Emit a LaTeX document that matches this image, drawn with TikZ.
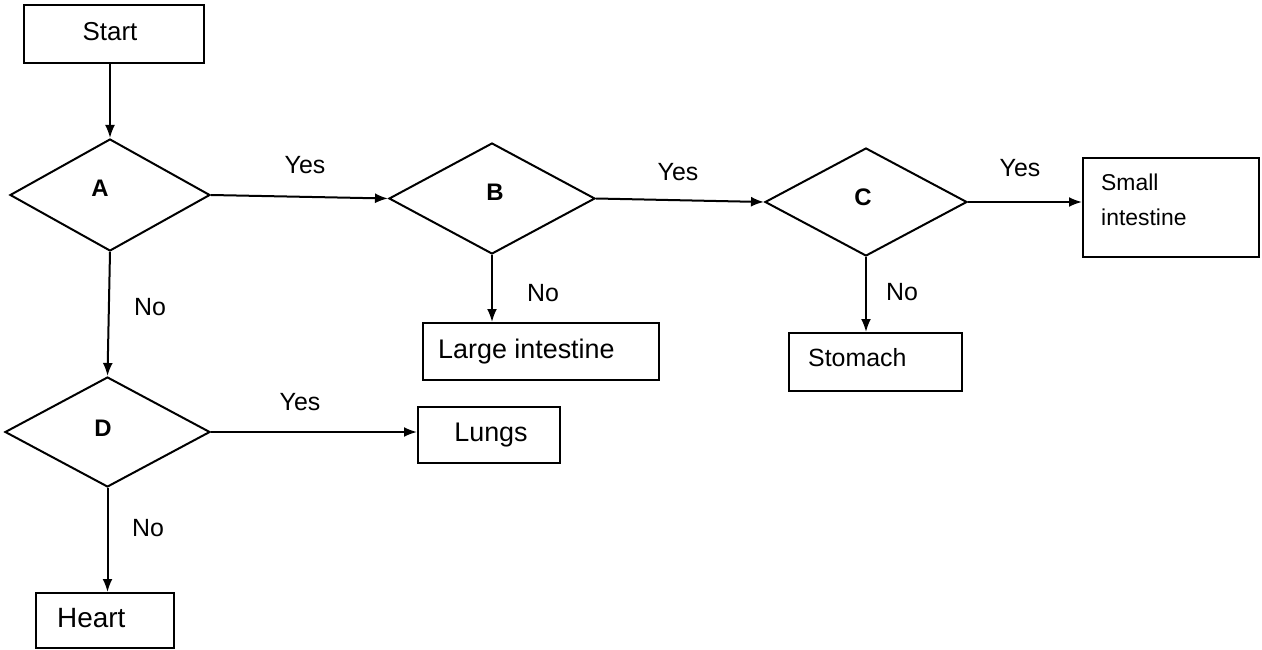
\documentclass[tikz,border=0pt]{standalone}
\usepackage{fontspec}
\setmainfont{Liberation Sans}
\usetikzlibrary{shapes.geometric,arrows.meta}
\begin{document}
\begin{tikzpicture}[x=1bp,y=-1bp,
  every node/.style={font=\fontsize{26}{30}\selectfont},
  boxnode/.style={draw, line width=2bp, rectangle, inner sep=0pt},
  decnode/.style={draw, line width=2bp, diamond, inner sep=0pt},
  lbl/.style={font=\fontsize{25}{30}\selectfont, inner sep=0pt},
  letter/.style={font=\fontsize{24}{28}\selectfont\bfseries, inner sep=0pt},
  conn/.style={line width=2bp, -{Latex[length=13bp,width=10bp]}}]
\useasboundingbox (0,0) rectangle (1262,650);
\fill[white] (0,0) rectangle (1262,650);

% boxes
\node[boxnode, minimum width=180bp, minimum height=58bp] (start) at (114,34) {};
\node[lbl, font=\fontsize{26}{30}\selectfont] (starttxt) at (110,32) {Start};
\node[boxnode, minimum width=176bp, minimum height=99bp] (si) at (1171,207.5) {};
\node[lbl, anchor=north west, align=left, font=\fontsize{23}{35}\selectfont] (sitxt) at (1101,174) {Small\\intestine};
\node[boxnode, minimum width=236bp, minimum height=57bp] (li) at (541,351.5) {};
\node[lbl, anchor=west, font=\fontsize{27}{30}\selectfont] (litxt) at (438,352) {Large intestine};
\node[boxnode, minimum width=173bp, minimum height=58bp] (st) at (875.5,362) {};
\node[lbl, anchor=west, font=\fontsize{25}{30}\selectfont] (sttxt) at (808,358) {Stomach};
\node[boxnode, minimum width=142bp, minimum height=56bp] (lungs) at (489,435) {};
\node[lbl, font=\fontsize{27}{30}\selectfont] (lungstxt) at (491,435) {Lungs};
\node[boxnode, minimum width=138bp, minimum height=55bp] (heart) at (105,620.5) {};
\node[lbl, anchor=west, font=\fontsize{28}{30}\selectfont] (hearttxt) at (57,618) {Heart};

% decisions
\node[decnode, minimum width=200bp, minimum height=112bp] (A) at (110,195) {};
\node[letter] (Atxt) at (100,188) {A};
\node[decnode, minimum width=206bp, minimum height=111bp] (B) at (492,198.5) {};
\node[letter] (Btxt) at (495,192) {B};
\node[decnode, minimum width=202bp, minimum height=108bp] (C) at (866,202) {};
\node[letter] (Ctxt) at (863,197) {C};
\node[decnode, minimum width=205bp, minimum height=110bp] (D) at (107.5,432) {};
\node[letter] (Dtxt) at (103,428) {D};

% connectors
\draw[conn] (A.north |- start.south) -- (A.north);
\draw[conn] (A.east) -- (B.west);
\draw[conn] (B.east) -- (C.west);
\draw[conn] (C.east) -- (C.east -| si.west);
\draw[conn] (B.south) -- (B.south |- li.north);
\draw[conn] (C.south) -- (C.south |- st.north);
\draw[conn] (A.south) -- (D.north);
\draw[conn] (D.east) -- (D.east -| lungs.west);
\draw[conn] (D.south) -- (D.south |- heart.north);

% labels
\node[lbl] (y1) at (305,165) {Yes};
\node[lbl] (y2) at (678,172) {Yes};
\node[lbl] (y3) at (1020,168) {Yes};
\node[lbl] (y4) at (300,402) {Yes};
\node[lbl] (n1) at (150,307) {No};
\node[lbl] (n2) at (543,293) {No};
\node[lbl] (n3) at (902,292) {No};
\node[lbl] (n4) at (148,528) {No};
\end{tikzpicture}
\end{document}
